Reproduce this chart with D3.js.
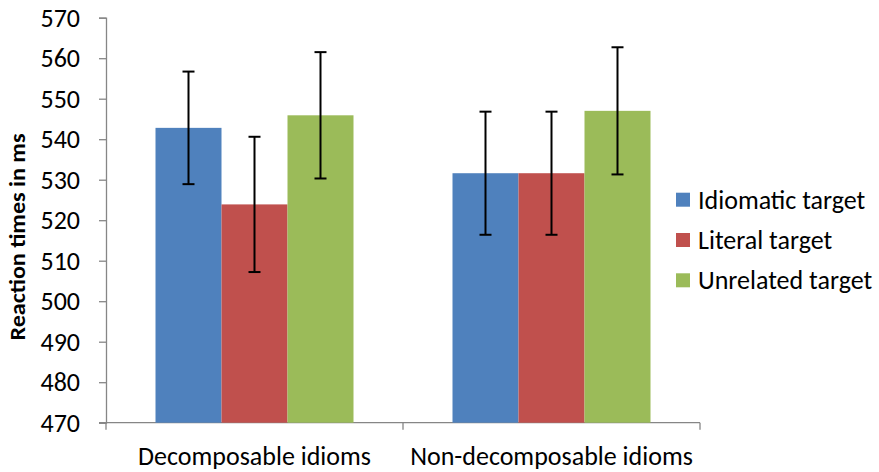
<!DOCTYPE html>
<html><head><meta charset="utf-8">
<script src="https://cdn.jsdelivr.net/npm/d3@7"></script>
<style>body{margin:0;background:#fff}svg{display:block}text{font-family:Carlito,Calibri,"Liberation Sans",Arial,sans-serif;fill:#000}</style>
</head><body><svg id="c" width="879" height="472"></svg>
<script>
const categories = ["Decomposable idioms", "Non-decomposable idioms"];
const seriesNames = ["Idiomatic target", "Literal target", "Unrelated target"];
const seriesColors = ["#4F81BD", "#C0504D", "#9BBB59"];
const idiomaticValues = [542.8, 531.6];
const literalValues = [523.9, 531.6];
const unrelatedValues = [545.9, 547.0];
const idiomaticErrors = [13.9, 15.2];
const literalErrors = [16.7, 15.2];
const unrelatedErrors = [15.6, 15.7];
const yTicks = [470, 480, 490, 500, 510, 520, 530, 540, 550, 560, 570];
const yTitle = "Reaction times in ms";

(function () {
const values = [idiomaticValues, literalValues, unrelatedValues];
const errors = [idiomaticErrors, literalErrors, unrelatedErrors];
const FONT = 'Carlito,Calibri,"Liberation Sans",Arial,sans-serif';
const FS = 26;

const svg = d3.select("#c");
const pl = 106, pr = 700, pt = 17.7, pb = 422.7;

const x0 = d3.scaleBand().domain(categories).range([pl, pr]);
const bw = x0.bandwidth();
const x1 = d3.scaleBand().domain(seriesNames).range([bw / 6, bw - bw / 6]);
const y = d3.scaleLinear().domain([470, 570]).range([pb, pt]);

// y axis
const yAxis = d3.axisLeft(y).tickValues(yTicks).tickSize(7).tickPadding(19).tickFormat(d3.format("d"));
const gy = svg.append("g").attr("transform", `translate(${pl},0)`).call(yAxis);
gy.select(".domain").attr("stroke", "#868686").attr("stroke-width", 1.3);
gy.selectAll(".tick line").attr("stroke", "#868686").attr("stroke-width", 1.3);
gy.selectAll(".tick text").attr("font-size", FS).attr("fill", "#000").style("font-family", FONT);

// x axis
const gx = svg.append("g").attr("transform", `translate(0,${pb})`);
gx.append("line").attr("x1", pl - 7).attr("x2", pr).attr("y1", 0).attr("y2", 0).attr("stroke", "#868686").attr("stroke-width", 1.3);
const xTickPos = [pl, pl + bw, pr];
gx.selectAll("line.xt").data(xTickPos).enter().append("line").attr("class", "xt")
  .attr("x1", d => d).attr("x2", d => d).attr("y1", 0).attr("y2", 7).attr("stroke", "#868686").attr("stroke-width", 1.3);
gx.selectAll("text.cat").data(categories).enter().append("text").attr("class", "cat")
  .attr("x", d => x0(d) + bw / 2).attr("y", 42).attr("text-anchor", "middle")
  .attr("font-size", FS).text(d => d);

// bars
categories.forEach((c, ci) => {
  seriesNames.forEach((s, si) => {
    const v = values[si][ci];
    svg.append("rect").attr("x", x0(c) + x1(s)).attr("width", x1.bandwidth())
      .attr("y", y(v)).attr("height", y(470) - y(v)).attr("fill", seriesColors[si]);
  });
});
// error bars
categories.forEach((c, ci) => {
  seriesNames.forEach((s, si) => {
    const v = values[si][ci], e = errors[si][ci];
    const cx = x0(c) + x1(s) + x1.bandwidth() / 2;
    const g = svg.append("g").attr("stroke", "#000").attr("stroke-width", 2);
    g.append("line").attr("x1", cx).attr("x2", cx).attr("y1", y(v + e)).attr("y2", y(v - e));
    g.append("line").attr("x1", cx - 6).attr("x2", cx + 6).attr("y1", y(v + e)).attr("y2", y(v + e));
    g.append("line").attr("x1", cx - 6).attr("x2", cx + 6).attr("y1", y(v - e)).attr("y2", y(v - e));
  });
});

// y title
svg.append("text").attr("transform", "translate(25,237) rotate(-90)").attr("text-anchor", "middle")
  .attr("font-size", 23).attr("font-weight", "bold").attr("textLength", 207).attr("lengthAdjust", "spacingAndGlyphs").text(yTitle);

// legend
const lg = svg.append("g");
seriesNames.forEach((s, i) => {
  const cy = 199.7 + i * 40.3;
  lg.append("rect").attr("x", 676).attr("y", cy - 7).attr("width", 14).attr("height", 14).attr("fill", seriesColors[i]);
  lg.append("text").attr("x", 698).attr("y", cy).attr("dy", "0.35em").attr("font-size", FS).text(s);
});
})();
</script></body></html>
